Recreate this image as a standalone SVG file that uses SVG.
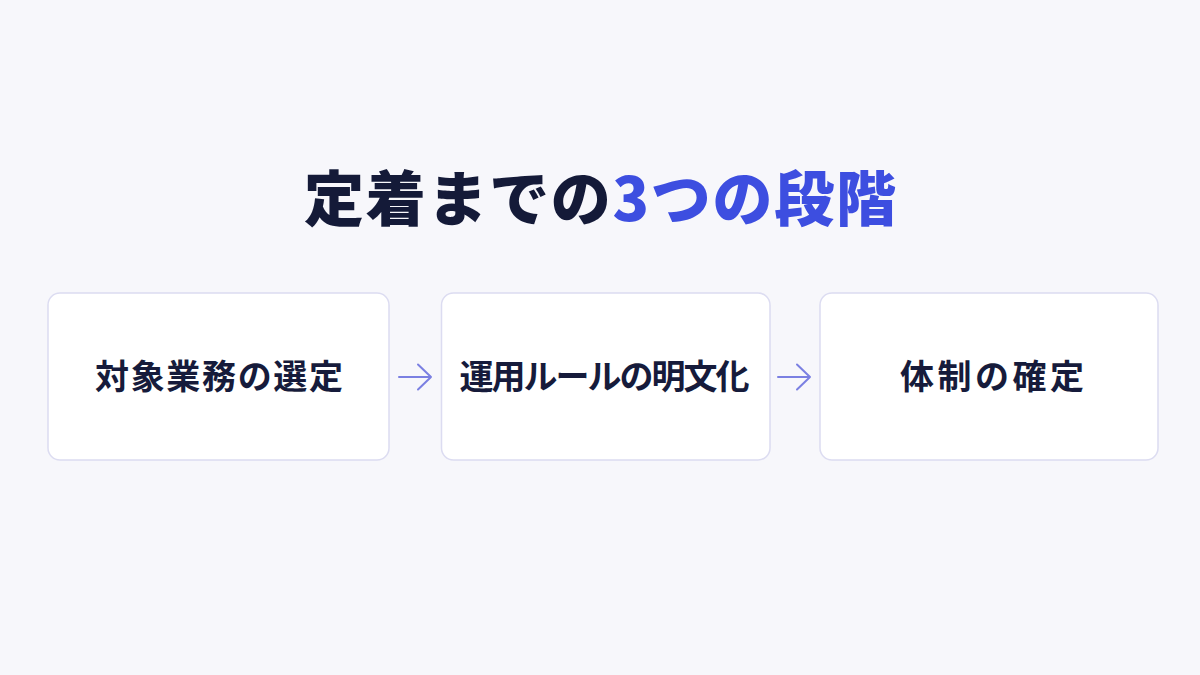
<svg xmlns="http://www.w3.org/2000/svg" width="1200" height="675" viewBox="0 0 1200 675">
<style>
.box{fill:#ffffff;stroke:#dcdcf1;stroke-width:1.5}
.lbl{font-family:"Noto Sans CJK JP","Noto Sans CJK SC",sans-serif;font-weight:700;font-size:34px;fill:#161b3b;text-anchor:middle}
.ttl{font-family:"Noto Sans CJK JP","Noto Sans CJK SC",sans-serif;font-weight:900;font-size:60px;fill:#141a38;text-anchor:middle}
.arr{fill:none;stroke:#7b80e2;stroke-width:2;stroke-linecap:round;stroke-linejoin:round}
</style>
<rect width="1200" height="675" fill="#f7f7fb"/>
<g id="title">
<text class="ttl" x="600" y="221" textLength="592" lengthAdjust="spacing">定着までの<tspan fill="#3d4ee0">3つの段階</tspan></text>
</g>
<g id="node1">
<rect class="box" x="48" y="293" width="341" height="167" rx="12"/>
<text class="lbl" x="219" y="389" textLength="248" lengthAdjust="spacing">対象業務の選定</text>
</g>
<g id="node2">
<rect class="box" x="441.5" y="293" width="328.5" height="167" rx="12"/>
<text class="lbl" x="604.5" y="389" textLength="290" lengthAdjust="spacing">運用ルールの明文化</text>
</g>
<g id="node3">
<rect class="box" x="820" y="293" width="338" height="167" rx="12"/>
<text class="lbl" x="992" y="389" textLength="184" lengthAdjust="spacing">体制の確定</text>
</g>
<g id="connectors">
<path class="arr" d="M399 377 H431 M418 364.5 L431 377 L418 389.5"/>
<path class="arr" d="M778 377 H810 M797 364.5 L810 377 L797 389.5"/>
</g>
</svg>
